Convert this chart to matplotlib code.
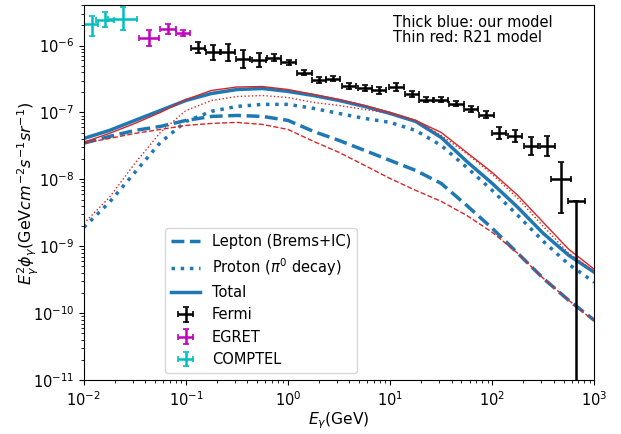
import numpy as np
import matplotlib
matplotlib.use("Agg")
import matplotlib.pyplot as plt

# model grid (GeV)
energy = [0.01, 0.0178, 0.0316, 0.0562, 0.1, 0.178, 0.316, 0.562, 1.0, 1.78, 3.16,
          5.62, 10.0, 17.8, 31.6, 56.2, 100.0, 178.0, 316.0, 562.0, 1000.0]

# our model (thick blue)
blue_lepton = [3.48e-8, 4.38e-8, 5.38e-8, 6.18e-8, 7.60e-8, 8.72e-8, 9.02e-8, 8.72e-8, 7.60e-8,
               5.20e-8, 3.82e-8, 2.71e-8, 1.92e-8, 1.36e-8, 8.71e-9, 4.09e-9, 1.86e-9, 7.87e-10,
               3.33e-10, 1.56e-10, 7.87e-11]
blue_proton = [1.92e-9, 4.54e-9, 1.27e-8, 3.56e-8, 7.34e-8, 1.04e-7, 1.23e-7, 1.32e-7, 1.32e-7,
               1.15e-7, 9.66e-8, 8.14e-8, 7.10e-8, 5.38e-8, 3.22e-8, 1.51e-8, 6.85e-9, 2.90e-9,
               1.19e-9, 5.38e-10, 2.90e-10]
blue_total = [4.09e-8, 5.38e-8, 7.60e-8, 1.07e-7, 1.51e-7, 1.92e-7, 2.20e-7, 2.28e-7, 2.06e-7,
              1.79e-7, 1.51e-7, 1.23e-7, 9.66e-8, 7.34e-8, 4.23e-8, 1.86e-8, 8.71e-9, 3.82e-9,
              1.56e-9, 7.34e-10, 4.09e-10]

# R21 model (thin red)
red_lepton = [3.48e-8, 4.09e-8, 4.86e-8, 5.57e-8, 6.40e-8, 6.85e-8, 7.10e-8, 6.62e-8, 5.57e-8,
              3.69e-8, 2.53e-8, 1.62e-8, 1.03e-8, 6.85e-9, 4.70e-9, 2.90e-9, 1.62e-9, 7.87e-10,
              3.33e-10, 1.56e-10, 7.60e-11]
red_proton = [2.20e-9, 5.38e-9, 1.73e-8, 5.03e-8, 1.07e-7, 1.51e-7, 1.73e-7, 1.79e-7, 1.67e-7,
              1.41e-7, 1.27e-7, 1.11e-7, 9.66e-8, 7.60e-8, 4.54e-8, 2.44e-8, 1.19e-8, 5.20e-9,
              1.99e-9, 7.87e-10, 4.24e-10]
red_total = [3.60e-8, 4.86e-8, 6.85e-8, 1.00e-7, 1.56e-7, 2.13e-7, 2.40e-7, 2.44e-7, 2.20e-7,
             1.86e-7, 1.56e-7, 1.27e-7, 1.00e-7, 7.60e-8, 5.03e-8, 2.53e-8, 1.27e-8, 5.77e-9,
             2.28e-9, 9.02e-10, 4.54e-10]

# Fermi data
fermi_e = [0.131, 0.184, 0.258, 0.362, 0.52, 0.73, 1.02, 1.44, 2.01, 2.76, 3.96, 5.69, 7.8,
           11.5, 16.4, 22.5, 31.6, 44.4, 62.2, 87.3, 117, 168, 241, 346, 474, 667]
fermi_e_lo = [0.111, 0.156, 0.219, 0.307, 0.44, 0.62, 0.86, 1.22, 1.70, 2.34, 3.36, 4.82, 6.6,
              9.7, 13.9, 19.1, 26.8, 37.6, 52.7, 74, 99, 142, 204, 293, 378, 551]
fermi_e_hi = [0.155, 0.217, 0.304, 0.427, 0.61, 0.86, 1.20, 1.70, 2.37, 3.26, 4.67, 6.71, 9.2,
              13.6, 19.4, 26.6, 37.3, 52.4, 73.4, 103, 138, 198, 284, 408, 594, 808]
fermi_f = [9.3e-7, 7.9e-7, 7.9e-7, 6.2e-7, 6.0e-7, 6.6e-7, 5.6e-7, 3.95e-7, 3.1e-7, 3.2e-7,
           2.5e-7, 2.3e-7, 2.13e-7, 2.36e-7, 1.86e-7, 1.56e-7, 1.56e-7, 1.36e-7, 1.11e-7, 9.3e-8,
           5.0e-8, 4.5e-8, 3.2e-8, 3.2e-8, 1.03e-8, 4.7e-9]
fermi_f_lo = [7.7e-7, 6.1e-7, 5.9e-7, 4.55e-7, 4.7e-7, 5.85e-7, 5.14e-7, 3.62e-7, 2.8e-7, 2.94e-7,
              2.25e-7, 2.07e-7, 1.89e-7, 2.06e-7, 1.68e-7, 1.43e-7, 1.43e-7, 1.25e-7, 1.0e-7, 8.25e-8,
              4.07e-8, 3.66e-8, 2.35e-8, 2.27e-8, 3.2e-9, 0.0]
fermi_f_hi = [1.12e-6, 1.02e-6, 1.06e-6, 8.45e-7, 7.6e-7, 7.45e-7, 6.1e-7, 4.3e-7, 3.44e-7, 3.49e-7,
              2.77e-7, 2.55e-7, 2.4e-7, 2.71e-7, 2.06e-7, 1.7e-7, 1.7e-7, 1.48e-7, 1.23e-7, 1.05e-7,
              6.15e-8, 5.53e-8, 4.36e-8, 4.51e-8, 1.79e-8, 4.7e-9]

# EGRET data
egret_e = [0.0434, 0.0667, 0.0935]
egret_e_lo = [0.0345, 0.0555, 0.0795]
egret_e_hi = [0.0545, 0.0800, 0.1100]
egret_f = [1.31e-6, 1.79e-6, 1.56e-6]
egret_f_lo = [9.9e-7, 1.5e-6, 1.4e-6]
egret_f_hi = [1.72e-6, 2.1e-6, 1.73e-6]

# COMPTEL data
comptel_e = [0.012, 0.0161, 0.0241]
comptel_e_lo = [0.0095, 0.0132, 0.0174]
comptel_e_hi = [0.0138, 0.0197, 0.0335]
comptel_f = [2.13e-6, 2.44e-6, 2.53e-6]
comptel_f_lo = [1.41e-6, 1.9e-6, 1.68e-6]
comptel_f_hi = [2.8e-6, 3.2e-6, 3.81e-6]


def err(c, lo, hi):
    c, lo, hi = np.array(c), np.array(lo), np.array(hi)
    return [c - lo, hi - c]


fig = plt.figure(figsize=(6.21, 4.34), dpi=100)
ax = fig.add_axes([0.135, 0.124, 0.822, 0.864])

blue = "tab:blue"
red = "tab:red"
ax.plot(energy, blue_lepton, ls="--", color=blue, lw=2.5, label="Lepton (Brems+IC)")
ax.plot(energy, blue_proton, ls=":", color=blue, lw=2.5, label=r"Proton ($\pi^0$ decay)")
ax.plot(energy, blue_total, ls="-", color=blue, lw=2.5, label="Total")
ax.plot(energy, red_lepton, ls="--", color=red, lw=1)
ax.plot(energy, red_proton, ls=":", color=red, lw=1)
ax.plot(energy, red_total, ls="-", color=red, lw=1)

ax.errorbar(fermi_e, fermi_f, xerr=err(fermi_e, fermi_e_lo, fermi_e_hi),
            yerr=err(fermi_f, fermi_f_lo, fermi_f_hi), fmt="none", ecolor="k",
            elinewidth=1.8, capsize=2.5, capthick=1.2, label="Fermi")
ax.errorbar(egret_e, egret_f, xerr=err(egret_e, egret_e_lo, egret_e_hi),
            yerr=err(egret_f, egret_f_lo, egret_f_hi), fmt="none", ecolor="m",
            elinewidth=1.8, capsize=2.5, capthick=1.2, label="EGRET")
ax.errorbar(comptel_e, comptel_f, xerr=err(comptel_e, comptel_e_lo, comptel_e_hi),
            yerr=err(comptel_f, comptel_f_lo, comptel_f_hi), fmt="none", ecolor="c",
            elinewidth=1.8, capsize=2.5, capthick=1.2, label="COMPTEL")

ax.set_xscale("log")
ax.set_yscale("log")
ax.set_xlim(1e-2, 1e3)
ax.set_ylim(1e-11, 4e-6)
ax.tick_params(labelsize=10.5)
ax.set_xlabel(r"$E_{\gamma}$(GeV)", fontsize=11.2, labelpad=1)
ax.set_ylabel(r"$E_{\gamma}^2\phi_{\gamma}$(GeV$cm^{-2}s^{-1}sr^{-1}$)", fontsize=11.5, labelpad=-6)

ax.text(0.605, 0.975, "Thick blue: our model\nThin red: R21 model", transform=ax.transAxes,
        va="top", ha="left", fontsize=10.5, linespacing=1.05)

ax.legend(loc="lower left", bbox_to_anchor=(0.145, 0.0), fontsize=10.5)

fig.savefig("out.png", dpi=100)
